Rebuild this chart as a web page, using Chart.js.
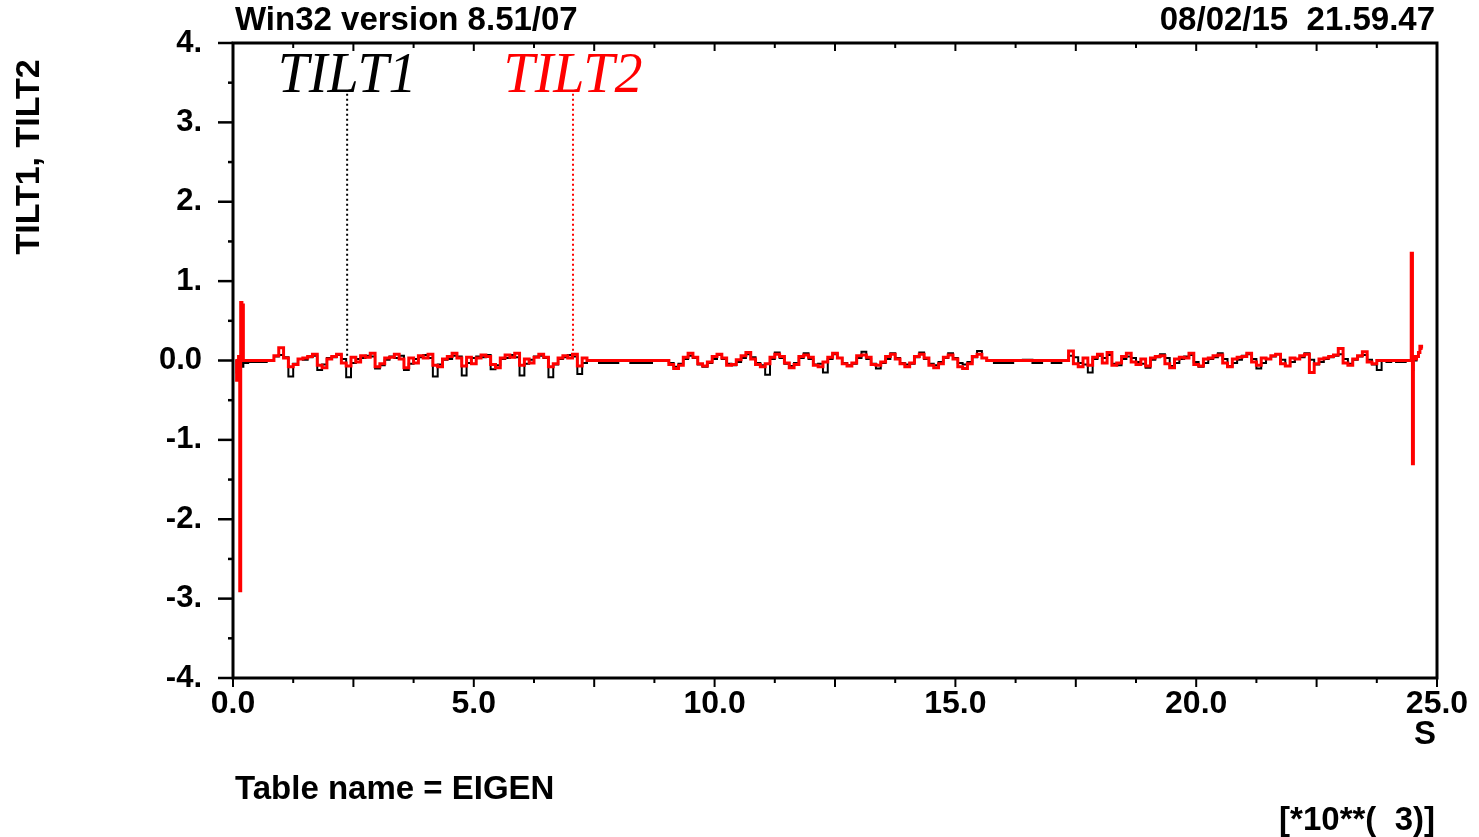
<!DOCTYPE html>
<html>
<head>
<meta charset="utf-8">
<title>TILT1, TILT2</title>
<script src="https://cdn.jsdelivr.net/npm/chart.js@4.4.1/dist/chart.umd.min.js"></script>
<style>
html, body { margin: 0; padding: 0; background: #ffffff; }
#wrap { width: 1479px; height: 837px; }
</style>
</head>
<body>
<div id="wrap"><canvas id="tiltChart" width="1479" height="837"></canvas></div>
<script>
// ==========================================================
// DATA  (time in units of 10**3 s)
// ==========================================================

const timeKs = [
    // start transient
    0.05, 0.10, 0.13, 0.15, 0.17, 0.20, 0.23, 0.28, 0.35, 0.45, 0.60, 0.80,
    // first noisy stretch
    0.9, 1.0, 1.1, 1.2, 1.3, 1.4,
    1.5, 1.6, 1.7, 1.8, 1.9, 2.0,
    2.1, 2.2, 2.3, 2.4, 2.5, 2.6,
    2.7, 2.8, 2.9, 3.0, 3.1, 3.2,
    3.3, 3.4, 3.5, 3.6, 3.7, 3.8,
    3.9, 4.0, 4.1, 4.2, 4.3, 4.4,
    4.5, 4.6, 4.7, 4.8, 4.9, 5.0,
    5.1, 5.2, 5.3, 5.4, 5.5, 5.6,
    5.7, 5.8, 5.9, 6.0, 6.1, 6.2,
    6.3, 6.4, 6.5, 6.6, 6.7, 6.8,
    6.9, 7.0, 7.1, 7.2, 7.3, 7.4,
    // quiet
    7.5, 7.7, 7.9, 8.1, 8.4, 8.6, 8.8, 9.0,
    // second noisy stretch
    9.1, 9.2, 9.3, 9.4, 9.5, 9.6,
    9.7, 9.8, 9.9, 10.0, 10.1, 10.2,
    10.3, 10.4, 10.5, 10.6, 10.7, 10.8,
    10.9, 11.0, 11.1, 11.2, 11.3, 11.4,
    11.5, 11.6, 11.7, 11.8, 11.9, 12.0,
    12.1, 12.2, 12.3, 12.4, 12.5, 12.6,
    12.7, 12.8, 12.9, 13.0, 13.1, 13.2,
    13.3, 13.4, 13.5, 13.6, 13.7, 13.8,
    13.9, 14.0, 14.1, 14.2, 14.3, 14.4,
    14.5, 14.6, 14.7, 14.8, 14.9, 15.0,
    15.1, 15.2, 15.3, 15.4, 15.5, 15.6,
    // quiet
    15.7, 15.9, 16.1, 16.3, 16.5, 16.7, 16.9, 17.1, 17.3,
    // third noisy stretch
    17.4, 17.5, 17.6, 17.7, 17.8, 17.9, 18.0, 18.1, 18.2, 18.3,
    18.4, 18.5, 18.6, 18.7, 18.8, 18.9, 19.0, 19.1, 19.2, 19.3,
    19.4, 19.5, 19.6, 19.7, 19.8, 19.9, 20.0, 20.1, 20.2, 20.3,
    20.4, 20.5, 20.6, 20.7, 20.8, 20.9, 21.0, 21.1, 21.2, 21.3,
    21.4, 21.5, 21.6, 21.7, 21.8, 21.9, 22.0, 22.1, 22.2, 22.3,
    22.4, 22.5, 22.6, 22.7, 22.8, 22.9, 23.0, 23.1, 23.2, 23.3,
    23.4, 23.5, 23.6, 23.7, 23.8,
    // quiet
    23.9, 24.0, 24.1, 24.2, 24.3, 24.4,
    // end transient
    24.45, 24.48, 24.50, 24.52, 24.55, 24.60, 24.63, 24.66, 24.70
];

const tilt1 = [
    0.00, -0.15, 0.00, 0.01, -0.02, -0.08, 0.00, -0.03, -0.02, -0.02, -0.02, 0.00,

    0.05, 0.07, 0.04, -0.20, -0.04, 0.02,
    0.01, 0.04, 0.06, -0.12, -0.05, 0.03,
    0.04, 0.07, 0.02, -0.21, -0.03, 0.02,
    0.03, 0.06, 0.05, -0.10, -0.06, 0.01,
    0.05, 0.03, 0.06, -0.12, -0.04, 0.02,
    0.04, 0.07, 0.03, -0.20, -0.05, 0.01,
    0.02, 0.06, 0.05, -0.19, -0.03, 0.03,
    0.05, 0.04, 0.07, -0.11, -0.06, 0.02,
    0.03, 0.07, 0.04, -0.19, -0.04, 0.01,
    0.05, 0.06, 0.03, -0.21, -0.05, 0.02,
    0.04, 0.07, 0.05, -0.17, -0.03, 0.00,

    0.00, -0.03, -0.03, 0.00, -0.03, -0.03, 0.00, 0.00,

    -0.03, -0.08, -0.04, 0.02, 0.06, 0.03,
    -0.05, -0.08, -0.03, 0.02, 0.07, 0.02,
    -0.04, -0.06, -0.02, 0.03, 0.08, 0.04,
    -0.03, -0.06, -0.18, 0.02, 0.10, 0.03,
    -0.04, -0.07, -0.03, 0.03, 0.09, 0.02,
    -0.05, -0.04, -0.15, 0.02, 0.08, 0.03,
    -0.03, -0.06, -0.04, 0.03, 0.11, 0.02,
    -0.04, -0.10, -0.03, 0.02, 0.09, 0.03,
    -0.03, -0.05, -0.04, 0.04, 0.10, 0.02,
    -0.04, -0.06, -0.02, 0.03, 0.09, 0.03,
    -0.03, -0.05, -0.02, 0.04, 0.12, 0.03,

    0.00, -0.03, -0.03, 0.00, 0.01, -0.03, 0.00, -0.03, 0.00,

    0.06, 0.04, -0.03, -0.05, -0.15, 0.02, 0.06, 0.03, 0.07, -0.04,
    -0.06, 0.02, 0.05, 0.03, -0.02, -0.04, -0.09, 0.01, 0.04, 0.08,
    0.03, -0.07, -0.03, 0.02, 0.05, 0.07, -0.02, -0.08, -0.03, 0.02,
    0.04, 0.09, 0.02, -0.07, -0.03, 0.01, 0.06, 0.08, 0.02, -0.10,
    -0.03, 0.02, 0.05, 0.08, 0.01, -0.07, -0.02, 0.02, 0.04, 0.09,
    0.01, -0.05, -0.02, 0.02, 0.04, 0.06, 0.08, 0.02, -0.04, 0.01,
    0.05, 0.07, 0.01, -0.05, -0.12,

    0.00, -0.02, 0.00, -0.02, -0.02, 0.00,

    0.00, 0.02, -0.12, 0.03, 0.00, 0.02, null, null, null
];

const tilt2 = [
    0.00, -0.25, 0.05, -2.90, 0.73, 0.70, 0.00, 0.00, 0.00, 0.00, 0.00, 0.00,

    0.06, 0.16, 0.03, -0.08, -0.05, 0.02,
    0.03, 0.05, 0.08, -0.06, -0.09, 0.02,
    0.05, 0.08, -0.03, -0.07, 0.04, -0.02,
    0.06, 0.04, 0.09, -0.08, -0.04, 0.03,
    0.04, 0.08, 0.02, -0.09, 0.03, -0.03,
    0.06, 0.03, 0.08, -0.06, -0.08, 0.02,
    0.05, 0.09, 0.03, -0.07, 0.04, -0.04,
    0.03, 0.07, 0.05, -0.05, -0.09, 0.03,
    0.07, 0.04, 0.09, -0.06, 0.02, -0.03,
    0.04, 0.08, 0.04, -0.08, -0.04, 0.03,
    0.06, 0.03, 0.08, -0.07, 0.03, 0.00,

    0.00, 0.00, 0.00, 0.00, 0.00, 0.00, 0.00, 0.00,

    -0.05, -0.10, -0.06, 0.04, 0.09, 0.04,
    -0.04, -0.07, -0.02, 0.05, 0.08, 0.03,
    -0.06, -0.05, 0.01, 0.06, 0.10, 0.02,
    -0.05, -0.08, -0.04, 0.04, 0.08, 0.05,
    -0.03, -0.09, -0.05, 0.05, 0.07, 0.04,
    -0.06, -0.08, -0.02, 0.04, 0.09, 0.03,
    -0.04, -0.07, -0.03, 0.06, 0.07, 0.04,
    -0.05, -0.06, -0.02, 0.05, 0.08, 0.02,
    -0.04, -0.08, -0.03, 0.05, 0.08, 0.03,
    -0.06, -0.09, -0.04, 0.04, 0.07, 0.02,
    -0.08, -0.10, -0.04, 0.05, 0.08, 0.03,

    0.00, 0.00, 0.00, 0.00, 0.00, 0.00, 0.00, 0.00, 0.00,

    0.12, -0.04, -0.08, 0.03, -0.06, 0.04, 0.08, -0.03, 0.10, -0.06,
    -0.03, 0.05, 0.09, -0.02, -0.05, 0.02, -0.07, 0.03, 0.05, 0.06,
    -0.04, -0.09, 0.02, 0.04, 0.03, 0.09, -0.05, -0.07, 0.02, 0.03,
    0.06, 0.07, -0.03, -0.08, 0.02, 0.04, 0.05, 0.09, -0.02, -0.06,
    0.03, 0.02, 0.06, 0.08, -0.04, -0.07, 0.03, 0.02, 0.06, 0.08,
    -0.15, -0.04, 0.02, 0.03, 0.05, 0.07, 0.15, -0.03, -0.06, 0.02,
    0.06, 0.11, -0.02, -0.04, 0.00,

    0.00, 0.00, 0.00, 0.00, 0.00, 0.00,

    0.00, 1.35, -1.30, 0.05, 0.02, 0.05, 0.10, 0.18, 0.15
];

// curve labels with their pointer lines
const markerNames = ["TILT1", "TILT2"];
const markerTimes = [2.37, 7.06];
const markerColors = ["#000000", "#ff0000"];
const markerTop = 3.36;
const markerBottom = 0.06;
const markerLabelY = 3.38;

// axis ticks
const yMajorTicks = [-4, -3, -2, -1, 0, 1, 2, 3, 4];
const yMinorTicks = [-3.5, -2.5, -1.5, -0.5, 0.5, 1.5, 2.5, 3.5];
const xMajorTicks = [0, 2.5, 5, 7.5, 10, 12.5, 15, 17.5, 20, 22.5, 25];
const xMinorTicks = [1.25, 3.75, 6.25, 8.75, 11.25, 13.75, 16.25, 18.75, 21.25, 23.75];

// page texts
const titleText = "Win32 version 8.51/07";
const stampText = "08/02/15  21.59.47";
const yTitleText = "TILT1, TILT2";
const xUnitText = "S";
const tableText = "Table name = EIGEN";
const scaleText = "[*10**(  3)]";

// ==========================================================
// HELPERS
// ==========================================================

const BOLD = '"Liberation Sans", Arial, Helvetica, sans-serif';

function pairs(values) {
    return timeKs.map((t, i) => ({ x: t, y: values[i] }));
}

function markerLine(i) {
    return {
        label: markerNames[i] + " pointer",
        data: [
            { x: markerTimes[i], y: markerTop },
            { x: markerTimes[i], y: markerBottom }
        ],
        borderColor: markerColors[i],
        borderWidth: 2,
        borderDash: [2, 3],
        pointRadius: 0,
        order: 2
    };
}

// ==========================================================
// FRAME + TICKS
// ==========================================================

const frameTicks = {
    id: "frameTicks",
    afterDraw(chart) {
        const { ctx, chartArea: a, scales: { x, y } } = chart;
        ctx.save();
        ctx.strokeStyle = "#000";
        ctx.lineCap = "butt";

        ctx.lineWidth = 2.5;
        yMajorTicks.forEach(v => {
            const py = y.getPixelForValue(v);
            ctx.beginPath(); ctx.moveTo(a.left - 15, py); ctx.lineTo(a.left, py); ctx.stroke();
        });
        yMinorTicks.forEach(v => {
            const py = y.getPixelForValue(v);
            ctx.beginPath(); ctx.moveTo(a.left - 5, py); ctx.lineTo(a.left, py); ctx.stroke();
        });

        ctx.lineWidth = 2;
        xMajorTicks.forEach(v => {
            const px = x.getPixelForValue(v);
            ctx.beginPath(); ctx.moveTo(px, a.bottom); ctx.lineTo(px, a.bottom + 9); ctx.stroke();
            ctx.beginPath(); ctx.moveTo(px, a.top); ctx.lineTo(px, a.top + 8); ctx.stroke();
        });
        xMinorTicks.forEach(v => {
            const px = x.getPixelForValue(v);
            ctx.beginPath(); ctx.moveTo(px, a.bottom); ctx.lineTo(px, a.bottom + 5); ctx.stroke();
            ctx.beginPath(); ctx.moveTo(px, a.top); ctx.lineTo(px, a.top + 5); ctx.stroke();
        });

        ctx.lineWidth = 3;
        ctx.strokeRect(a.left, a.top, a.right - a.left, a.bottom - a.top);
        ctx.restore();
    }
};

// ==========================================================
// TEXTS
// ==========================================================

const pageTexts = {
    id: "pageTexts",
    afterDraw(chart) {
        const { ctx, chartArea: a, scales: { x, y } } = chart;
        ctx.save();
        ctx.fillStyle = "#000";
        ctx.textBaseline = "middle";
        ctx.font = "bold 33px " + BOLD;

        ctx.textAlign = "left";
        ctx.fillText(titleText, a.left + 2, 21);
        ctx.fillText(tableText, a.left + 2, 790);

        ctx.textAlign = "right";
        ctx.fillText(stampText, a.right - 2, 21);
        ctx.fillText(xUnitText, a.right - 1, 735);
        ctx.fillText(scaleText, a.right - 2, 821);

        ctx.save();
        ctx.font = "bold 34px " + BOLD;
        ctx.translate(30, 157);
        ctx.rotate(-Math.PI / 2);
        ctx.textAlign = "center";
        ctx.fillText(yTitleText, 0, 0);
        ctx.restore();

        ctx.font = 'italic 56px "Liberation Serif", "Times New Roman", serif';
        ctx.textAlign = "center";
        ctx.textBaseline = "alphabetic";
        markerNames.forEach((name, i) => {
            ctx.fillStyle = markerColors[i];
            ctx.fillText(name, x.getPixelForValue(markerTimes[i]), y.getPixelForValue(markerLabelY));
        });
        ctx.restore();
    }
};

// ==========================================================
// CHART
// ==========================================================

new Chart(document.getElementById("tiltChart"), {
    type: "line",
    data: {
        datasets: [
            {
                label: "TILT2",
                data: pairs(tilt2),
                borderColor: "#ff0000",
                borderWidth: 3,
                pointRadius: 0,
                stepped: "middle",
                order: 0
            },
            {
                label: "TILT1",
                data: pairs(tilt1),
                borderColor: "#000000",
                borderWidth: 2,
                pointRadius: 0,
                stepped: "middle",
                order: 1
            },
            markerLine(0),
            markerLine(1)
        ]
    },
    options: {
        responsive: false,
        animation: false,
        layout: { padding: { left: 0, top: 43, right: 42, bottom: 0 } },
        plugins: {
            legend: { display: false },
            tooltip: { enabled: false },
            title: { display: false }
        },
        scales: {
            x: {
                type: "linear",
                min: 0,
                max: 25,
                border: { display: false },
                grid: { display: false, drawTicks: false },
                ticks: {
                    stepSize: 5,
                    padding: 7,
                    color: "#000",
                    maxRotation: 0,
                    font: { family: BOLD, size: 32, weight: "bold" },
                    callback: v => v.toFixed(1)
                },
                afterFit: scale => { scale.height = 159; }
            },
            y: {
                min: -4,
                max: 4,
                border: { display: false },
                grid: { display: false, drawTicks: false },
                ticks: {
                    stepSize: 1,
                    padding: 31,
                    color: "#000",
                    font: { family: BOLD, size: 31, weight: "bold" },
                    callback: v => (v === 0 ? "0.0" : v + ".")
                },
                afterFit: scale => {
                    scale.width = 233;
                    scale.paddingTop = 0;
                    scale.paddingBottom = 0;
                }
            }
        }
    },
    plugins: [frameTicks, pageTexts]
});
</script>
</body>
</html>
